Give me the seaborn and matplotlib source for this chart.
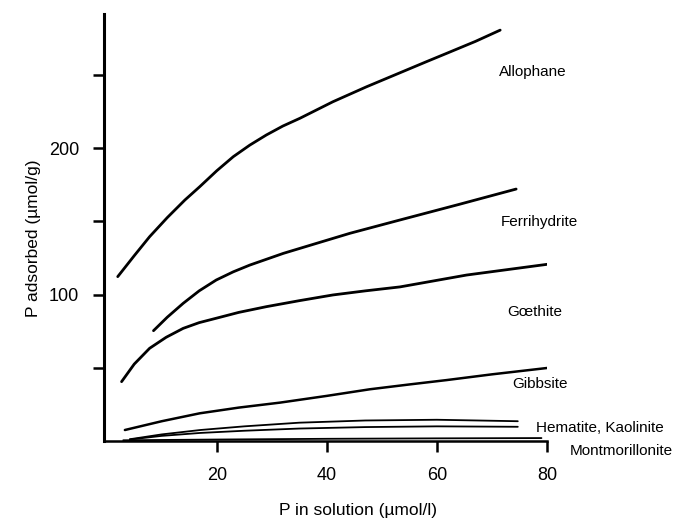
import pandas as pd
import matplotlib
matplotlib.use("Agg")
import matplotlib.pyplot as plt
import seaborn as sns

# Curves (P in solution, P adsorbed)
allophane_x = [2.0, 5.0, 7.8, 11.0, 14.2, 16.9, 20.0, 23.0, 26.0, 29.0, 32.0, 35.1,
               41.1, 47.2, 53.3, 58.0, 62.0, 67.0, 71.5]
allophane_y = [112.2, 126.5, 139.5, 152.5, 164.5, 173.6, 184.5, 194.1, 202.0, 208.9,
               215.0, 220.3, 231.6, 241.8, 251.4, 258.8, 265.0, 272.8, 280.5]

ferri_x = [8.5, 11.0, 13.9, 16.8, 19.9, 23.0, 26.0, 32.1, 38.1, 44.2, 53.3, 64.0, 74.4]
ferri_y = [75.3, 84.5, 94.0, 102.5, 109.9, 115.5, 120.1, 128.1, 134.9, 141.8, 150.9,
           161.5, 172.0]

goethite_x = [2.7, 5.0, 7.8, 10.8, 13.9, 16.8, 19.9, 24.0, 29.0, 35.0, 41.1, 47.0,
              53.3, 65.4, 81.8]
goethite_y = [40.5, 52.5, 63.3, 70.8, 76.9, 80.8, 83.8, 87.8, 91.7, 95.8, 99.7, 102.5,
              105.2, 113.3, 121.5]

gibbsite_x = [3.3, 10.0, 16.9, 24.0, 31.5, 40.0, 47.8, 55.0, 61.8, 70.0, 80.4]
gibbsite_y = [7.5, 13.5, 18.9, 22.8, 26.2, 30.8, 35.3, 38.6, 41.6, 45.5, 50.0]

hematite_x = [4.2, 10.0, 17.0, 25.0, 35.0, 47.0, 60.0, 74.7]
hematite_y = [1.2, 4.5, 7.5, 10.0, 12.5, 14.0, 14.5, 13.5]

kaolinite_x = [4.2, 10.0, 17.0, 25.0, 35.0, 47.0, 60.0, 74.7]
kaolinite_y = [1.0, 3.5, 5.5, 7.0, 8.5, 9.5, 10.0, 9.7]

montmor_x = [3.0, 20.0, 40.0, 60.0, 79.0]
montmor_y = [0.5, 1.0, 1.5, 1.8, 2.0]

# label text and where it sits (data coords)
labels = ["Allophane", "Ferrihydrite", "G\u0153thite", "Gibbsite",
          "Hematite, Kaolinite", "Montmorillonite"]
label_x = [77.4, 78.7, 77.8, 78.7, 89.6, 93.6]
label_y = [251.7, 149.7, 87.8, 38.7, 8.9, -6.8]

x_ticks = [20, 40, 60, 80]
y_ticks = [50, 100, 150, 200, 250]
y_ticklabels = ["", "100", "", "200", ""]

sns.set_style("ticks")
plt.rcParams["font.family"] = ["Liberation Sans", "DejaVu Sans"]

fig = plt.figure(figsize=(6.76, 5.19), dpi=100)
ax = fig.add_axes([0.1538, 0.1503, 0.6553, 0.8227])

curves = [
    (allophane_x, allophane_y, 2.0),
    (ferri_x, ferri_y, 2.0),
    (goethite_x, goethite_y, 2.0),
    (gibbsite_x, gibbsite_y, 1.8),
    (hematite_x, hematite_y, 1.3),
    (kaolinite_x, kaolinite_y, 1.3),
    (montmor_x, montmor_y, 1.3),
]
for xs, ys, lw in curves:
    df = pd.DataFrame({"x": xs, "y": ys})
    sns.lineplot(data=df, x="x", y="y", ax=ax, color="black", linewidth=lw,
                 estimator=None, sort=False)

for txt, lx, ly in zip(labels, label_x, label_y):
    ax.text(lx, ly, txt, ha="center", va="center", fontsize=11,
            color="black", clip_on=False)

ax.set_xlim(-0.5, 80)
ax.set_ylim(0, 291.5)
ax.set_xticks(x_ticks)
ax.set_yticks(y_ticks)
ax.set_yticklabels(y_ticklabels)
ax.tick_params(axis="both", direction="out", length=8, width=1.8,
               labelsize=13, colors="black")
ax.tick_params(axis="x", pad=11)
ax.tick_params(axis="y", pad=10)

for side in ["top", "right"]:
    ax.spines[side].set_visible(False)
ax.spines["left"].set_linewidth(2.2)
ax.spines["bottom"].set_linewidth(1.8)
ax.spines["left"].set_color("black")
ax.spines["bottom"].set_color("black")

ax.set_xlabel("P in solution (\u00b5mol/l)", fontsize=12.5, color="black")
ax.set_ylabel("P adsorbed (\u00b5mol/g)", fontsize=12.5, color="black")
ax.xaxis.label.set_va("center")
ax.yaxis.label.set_va("center")
ax.xaxis.set_label_coords(0.573, -0.162)
ax.yaxis.set_label_coords(-0.160, 0.475)

fig.savefig("out.png", dpi=100)
plt.close(fig)
